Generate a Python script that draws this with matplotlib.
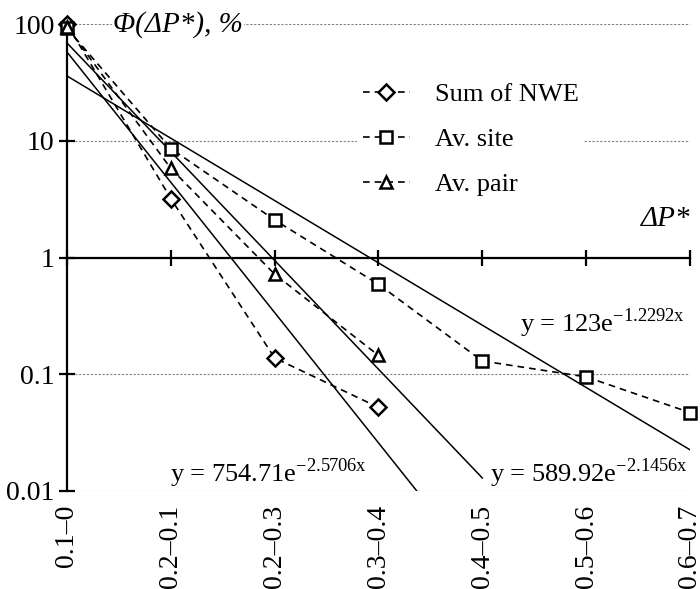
import numpy as np
import matplotlib.pyplot as plt
from matplotlib.ticker import NullLocator

plt.rcParams['font.family'] = ['Liberation Serif', 'DejaVu Serif']
plt.rcParams['mathtext.fontset'] = 'custom'
plt.rcParams['mathtext.rm'] = 'Liberation Serif'

# categories of dP*
cats = ['0.1\u20130', '0.2\u20130.1', '0.2\u20130.3', '0.3\u20130.4',
        '0.4\u20130.5', '0.5\u20130.6', '0.6\u20130.7']
x = np.arange(1, len(cats) + 1)

# data, %
nwe = [100, 3.2, 0.138, 0.052]
site = [92, 8.6, 2.1, 0.59, 0.13, 0.095, 0.047]
pair = [95, 5.8, 0.72, 0.145]

# exponential trendlines y = a*exp(b*x), x = category number
trend_a = [754.71, 123, 589.92]
trend_b = [-2.5706, -1.2292, -2.1456]
trend_end = [5, 7, 5]
trend_txt = [r'y = 754.71e$^{\mathregular{-2.5706x}}$',
             r'y = 123e$^{\mathregular{-1.2292x}}$',
             r'y = 589.92e$^{\mathregular{-2.1456x}}$']
txt_pos = [(0.166, 0.02), (0.727, 0.34), (0.679, 0.02)]

fig = plt.figure(figsize=(7, 5.89), dpi=100)
ax = fig.add_axes([0.0957, 0.1664, 0.89, 0.7926])
ax.set_yscale('log')
ax.set_ylim(0.01, 100)
ax.set_xlim(1, 7)

dash = (0, (4, 3))
mk = dict(mfc='white', mec='black', mew=1.8, clip_on=False, zorder=5)
ax.plot(x[:len(nwe)], nwe, color='black', lw=1.2, ls=dash, marker='D', ms=8, label='Sum of NWE', **mk)
ax.plot(x[:len(site)], site, color='black', lw=1.2, ls=dash, marker='s', ms=9, label='Av. site', **mk)
ax.plot(x[:len(pair)], pair, color='black', lw=1.2, ls=dash, marker='^', ms=8, label='Av. pair', **mk)

for a, b, e, t, p in zip(trend_a, trend_b, trend_end, trend_txt, txt_pos):
    xx = np.linspace(1, e, 200)
    ax.plot(xx, a * np.exp(b * xx), color='black', lw=1.1, zorder=4)
    ax.text(p[0], p[1], t, transform=ax.transAxes, fontsize=19, va='baseline', ha='left')

# axes styling
for s in ['top', 'right']:
    ax.spines[s].set_visible(False)
ax.spines['bottom'].set_position(('data', 1))
ax.spines['bottom'].set_linewidth(1.6)
ax.spines['left'].set_linewidth(1.6)
ax.set_xticks(x)
ax.tick_params(axis='x', direction='inout', length=11, width=1.6, labelbottom=False)
ax.set_yticks([100, 10, 1, 0.1, 0.01], ['100', '10', '1', '0.1', '0.01'])
ax.yaxis.set_minor_locator(NullLocator())
ax.tick_params(axis='y', direction='inout', length=12, width=1.6, labelsize=20, pad=3)
ax.grid(axis='y', which='major', color='grey', ls=(0, (2, 1.5)), lw=0.8)
ax.set_axisbelow(True)

sec = ax.secondary_xaxis('bottom')
sec.set_xticks(x, cats, rotation=90)
sec.tick_params(length=0, pad=10, labelsize=20)
sec.spines['bottom'].set_visible(False)

ax.text(0.074, 1.0, '\u03a6(\u0394P*), %', transform=ax.transAxes, style='italic',
        fontsize=21, va='center', ha='left',
        bbox=dict(facecolor='white', edgecolor='none', pad=1))
ax.text(1.0, 0.555, '\u0394P*', transform=ax.transAxes, style='italic',
        fontsize=21, va='bottom', ha='right')

leg = ax.legend(loc='upper left', bbox_to_anchor=(0.445, 0.914), fontsize=19,
                frameon=True, fancybox=False, edgecolor='none', framealpha=1,
                handlelength=1.8, labelspacing=0.82, handletextpad=0.93,
                borderpad=0.2)

fig.savefig('out.png', dpi=100)
